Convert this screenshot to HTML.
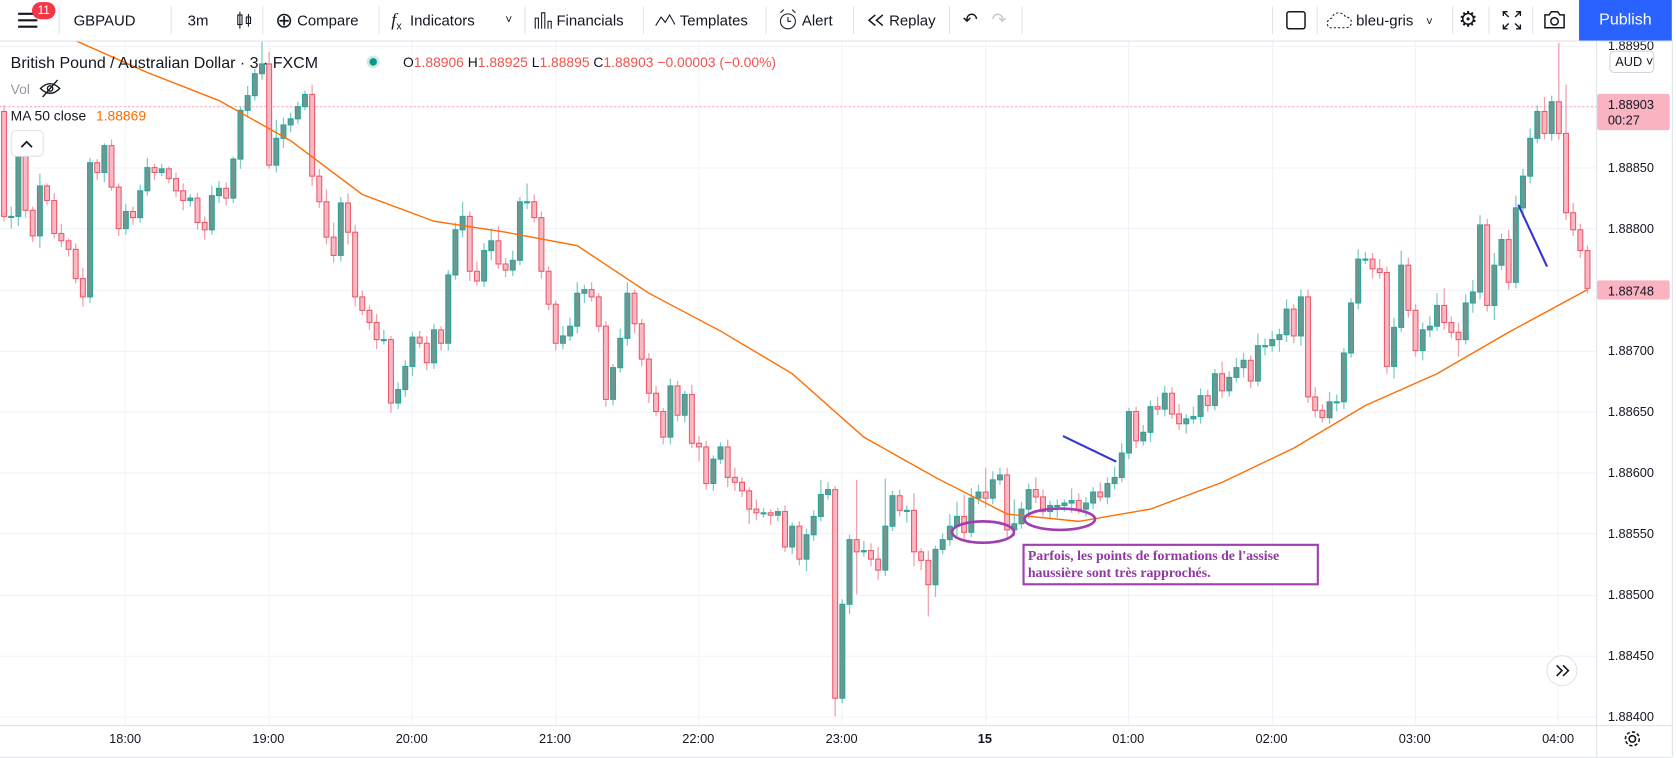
<!DOCTYPE html>
<html><head><meta charset="utf-8">
<style>
html,body{margin:0;padding:0;background:#fff;width:1676px;height:758px;overflow:hidden;font-family:"Liberation Sans",sans-serif;color:#131722}
#wrap{position:absolute;left:0;top:0;width:1572px;height:711px;transform:scale(1.0662);transform-origin:0 0}
#top{position:absolute;left:0;top:0;width:1568px;height:38px;border-bottom:1px solid #e0e3eb;background:#fff}
.ti{position:absolute;top:0;height:38px;line-height:38px;font-size:14px;white-space:nowrap}
.sep{position:absolute;top:6px;width:1px;height:26px;background:#e0e3eb}
#chart{position:absolute;left:0;top:0}
</style></head><body>
<div id="wrap">
<svg id="chart" width="1572" height="711" xmlns="http://www.w3.org/2000/svg" font-family="Liberation Sans, sans-serif">
<g id="grid"></g>
<line x1="0" y1="100" x2="1497" y2="100" stroke="#f7a9b9" stroke-dasharray="2,2"/>
<g id="candles"></g>
<path id="ma" fill="none" stroke="#ff6d00" stroke-width="1.3"/>
<g>
<ellipse cx="922" cy="499" rx="29" ry="10" fill="none" stroke="#a040b0" stroke-width="2.5"/>
<ellipse cx="994" cy="487" rx="33" ry="10" fill="none" stroke="#a040b0" stroke-width="2.5"/>
<line x1="997" y1="409" x2="1047" y2="433" stroke="#3535d0" stroke-width="2"/>
<line x1="1424" y1="192" x2="1451" y2="250" stroke="#3535d0" stroke-width="2"/>
<rect x="960" y="511" width="276" height="37" fill="#fff" stroke="#a040b0" stroke-width="2"/>
<text x="964" y="525" font-family="Liberation Serif, serif" font-weight="bold" font-size="13" fill="#8e3aa0">Parfois, les points de formations de l'assise</text>
<text x="964" y="541" font-family="Liberation Serif, serif" font-weight="bold" font-size="13" fill="#8e3aa0">haussière sont très rapprochés.</text>
</g>
<rect x="1497" y="38" width="71" height="642" fill="#fff"/>
<line x1="1497.5" y1="38" x2="1497.5" y2="710" stroke="#e0e3eb"/>
<line x1="1568.5" y1="38" x2="1568.5" y2="710" stroke="#e0e3eb"/>
<line x1="0" y1="680.5" x2="1568" y2="680.5" stroke="#e0e3eb"/>
<line x1="0" y1="710.5" x2="1568" y2="710.5" stroke="#e0e3eb"/>
<g id="yticks" font-size="12" fill="#131722"></g>
<g id="xticks" font-size="12" fill="#131722"></g>
<rect x="1510" y="48" width="41" height="20" rx="4" fill="#fff" stroke="#d1d4dc"/>
<text x="1515" y="62" font-size="12" fill="#131722">AUD ˅</text>
<rect x="1498" y="88" width="68" height="34" rx="2" fill="#f9b3c1"/>
<text x="1508" y="102" font-size="12" fill="#131722">1.88903</text>
<text x="1508" y="117" font-size="12" fill="#131722">00:27</text>
<rect x="1498" y="263" width="68" height="18" rx="2" fill="#f9b3c1"/>
<text x="1508" y="277" font-size="12" fill="#131722">1.88748</text>
<g>
<text x="10" y="64" font-size="15" fill="#131722">British Pound / Australian Dollar · 3 · FXCM</text>
<circle cx="350" cy="58" r="6" fill="#cfe9e5"/><circle cx="350" cy="58" r="3.5" fill="#089981"/>
<text x="378" y="63" font-size="13" fill="#ef5350"><tspan fill="#131722">O</tspan>1.88906 <tspan fill="#131722">H</tspan>1.88925 <tspan fill="#131722">L</tspan>1.88895 <tspan fill="#131722">C</tspan>1.88903 −0.00003 (−0.00%)</text>
<text x="10" y="88" font-size="13" fill="#9598a1">Vol</text>
<g stroke="#131722" fill="none" stroke-width="1.3"><path d="M38 83 Q47 74 56 83 Q47 92 38 83Z"/><circle cx="47" cy="83" r="2.5"/><line x1="40" y1="91" x2="54" y2="75"/></g>
<text x="10" y="113" font-size="13" fill="#131722">MA 50 close</text>
<text x="90" y="113" font-size="13" fill="#ff6d00">1.88869</text>
<rect x="10.5" y="122.5" width="30" height="24" rx="4" fill="#fff" stroke="#e0e3eb"/>
<path d="M20 138 L25 133 L30 138" stroke="#131722" fill="none" stroke-width="1.6"/>
</g>
<g><circle cx="1465" cy="629" r="14" fill="#fff" stroke="#e0e3eb"/><path d="M1460 624 L1465 629 L1460 634 M1466 624 L1471 629 L1466 634" stroke="#131722" fill="none" stroke-width="1.5"/></g>
<g stroke="#131722" fill="none" stroke-width="1.5"><circle cx="1531" cy="693" r="3"/><circle cx="1531" cy="693" r="6.5" stroke-dasharray="3,2"/></g>
</svg>

<div id="top">
 <div class="ti" style="left:16px"><svg width="20" height="38"><path d="M1 13h18M1 19h18M1 25h18" stroke="#131722" stroke-width="2"/></svg></div>
 <div class="ti" style="left:30px;top:2px;height:16px;line-height:16px;width:22px;border-radius:8px;background:#f23645;color:#fff;font-size:11px;text-align:center">11</div>
 <div class="sep" style="left:55px"></div>
 <div class="ti" style="left:69px">GBPAUD</div>
 <div class="sep" style="left:160px"></div>
 <div class="ti" style="left:176px">3m</div>
 <div class="ti" style="left:221px"><svg width="16" height="38"><path d="M4 11v16M12 13v12" stroke="#131722"/><rect x="2" y="14" width="4" height="9" fill="none" stroke="#131722"/><rect x="10" y="16" width="4" height="6" fill="none" stroke="#131722"/></svg></div>
 <div class="sep" style="left:246px"></div>
 <div class="ti" style="left:258px"><span style="font-size:20px;vertical-align:-2px">⊕</span> Compare</div>
 <div class="sep" style="left:355px"></div>
 <div class="ti" style="left:367px"><i style="font-family:'Liberation Serif',serif;font-size:17px">f</i><sub style="font-size:10px">x</sub> &nbsp;Indicators</div>
 <div class="ti" style="left:474px;font-size:11px">˅</div>
 <div class="sep" style="left:492px"></div>
 <div class="ti" style="left:500px"><svg width="18" height="38" style="vertical-align:top"><path d="M2 27V17h3v10M8 27V12h3v15M14 27V20h3v7" fill="none" stroke="#131722"/></svg> Financials</div>
 <div class="sep" style="left:603px"></div>
 <div class="ti" style="left:614px"><svg width="20" height="38" style="vertical-align:top"><path d="M1 24l5-8 4 5 4-7 5 9" fill="none" stroke="#131722"/></svg> Templates</div>
 <div class="sep" style="left:718px"></div>
 <div class="ti" style="left:729px"><svg width="20" height="38" style="vertical-align:top"><circle cx="10" cy="20" r="7" fill="none" stroke="#131722"/><path d="M10 16v4h3M3 12l3-3M17 12l-3-3" fill="none" stroke="#131722"/></svg> Alert</div>
 <div class="sep" style="left:800px"></div>
 <div class="ti" style="left:812px"><svg width="18" height="38" style="vertical-align:top"><path d="M9 14l-6 5 6 5M16 14l-6 5 6 5" fill="none" stroke="#131722" stroke-width="1.4"/></svg> Replay</div>
 <div class="sep" style="left:890px"></div>
 <div class="ti" style="left:903px;font-size:17px">↶</div>
 <div class="ti" style="left:930px;font-size:17px;color:#c5c8d0">↷</div>
 <div class="sep" style="left:958px"></div>
 <div class="sep" style="left:1193px"></div>
 <div class="ti" style="left:1206px"><svg width="20" height="38"><rect x="1" y="11" width="17" height="16" rx="2" fill="none" stroke="#131722" stroke-width="1.4"/></svg></div>
 <div class="sep" style="left:1235px"></div>
 <div class="ti" style="left:1242px"><svg width="26" height="38" style="vertical-align:top"><path d="M5 26h16a5 5 0 0 0-1-10 7 7 0 0 0-13 1 5 5 0 0 0-2 9z" fill="none" stroke="#131722" stroke-dasharray="2,2"/></svg> bleu-gris <span style="font-size:11px;margin-left:8px">˅</span></div>
 <div class="sep" style="left:1362px"></div>
 <div class="ti" style="left:1368px;font-size:20px">⚙</div>
 <div class="sep" style="left:1396px"></div>
 <div class="ti" style="left:1409px"><svg width="18" height="38"><path d="M1 15v-4h4M13 11h4v4M17 23v4h-4M5 27H1v-4M1 11l5 5M17 11l-5 5M17 27l-5-5M1 27l5-5" fill="none" stroke="#131722" stroke-width="1.3"/></svg></div>
 <div class="sep" style="left:1437px"></div>
 <div class="ti" style="left:1447px"><svg width="22" height="38"><path d="M2 14h4l2-3h6l2 3h4v12H2z" fill="none" stroke="#131722" stroke-width="1.4"/><circle cx="11" cy="20" r="3.5" fill="none" stroke="#131722" stroke-width="1.4"/></svg></div>
 <div class="ti" style="left:1481px;width:87px;background:#2962ff;color:#fff;text-align:center;font-size:15px">Publish</div>
</div>
</div>

<script>
const firstOpen = 1.88896;
const closes = [1.88810,1.88810,1.88868,1.88815,1.88794,1.88835,1.88823,1.88796,1.88790,1.88783,1.88759,1.88744,1.88854,1.88846,1.88868,1.88834,1.88800,1.88814,1.88809,1.88831,
1.88850,1.88846,1.88849,1.88841,1.88831,1.88823,1.88825,1.88805,1.88799,1.88827,1.88833,1.88825,1.88857,1.88897,1.88909,1.88927,1.88935,1.88852,1.88874,1.88885,
1.88890,1.88900,1.88910,1.88843,1.88822,1.88793,1.88778,1.88821,1.88797,1.88744,1.88733,1.88723,1.88709,1.88709,1.88657,1.88668,1.88687,1.88711,1.88706,1.88690,
1.88717,1.88706,1.88762,1.88799,1.88810,1.88765,1.88757,1.88782,1.88790,1.88771,1.88766,1.88774,1.88822,1.88822,1.88809,1.88765,1.88738,1.88706,1.88712,1.88720,
1.88747,1.88750,1.88744,1.88720,1.88660,1.88686,1.88710,1.88747,1.88722,1.88693,1.88665,1.88650,1.88629,1.88671,1.88647,1.88664,1.88624,1.88621,1.88591,1.88611,
1.88621,1.88596,1.88592,1.88585,1.88570,1.88567,1.88567,1.88565,1.88568,1.88539,1.88556,1.88529,1.88549,1.88564,1.88582,1.88586,1.88415,1.88492,1.88545,1.88535,
1.88536,1.88529,1.88520,1.88556,1.88581,1.88569,1.88569,1.88535,1.88528,1.88508,1.88537,1.88545,1.88556,1.88564,1.88551,1.88579,1.88584,1.88579,1.88594,1.88598,
1.88553,1.88558,1.88570,1.88586,1.88580,1.88568,1.88573,1.88573,1.88575,1.88577,1.88570,1.88575,1.88584,1.88580,1.88591,1.88596,1.88616,1.88650,1.88626,1.88633,
1.88654,1.88652,1.88665,1.88648,1.88640,1.88644,1.88646,1.88663,1.88655,1.88681,1.88667,1.88678,1.88686,1.88692,1.88675,1.88704,1.88704,1.88709,1.88713,1.88734,
1.88712,1.88744,1.88662,1.88651,1.88645,1.88658,1.88658,1.88698,1.88739,1.88775,1.88775,1.88767,1.88764,1.88687,1.88719,1.88770,1.88733,1.88700,1.88717,1.88720,
1.88737,1.88723,1.88715,1.88709,1.88739,1.88748,1.88803,1.88737,1.88770,1.88791,1.88756,1.88817,1.88843,1.88874,1.88896,1.88878,1.88904,1.88878,1.88813,1.88799,
1.88782,1.88751];
// wick sizes in 0.00001 units
const wickUp = [5,8,4,6,3,10,2,6,8,2,5,9,4,3,2,5,3,6,4,5, 8,3,4,2,5,6,3,4,5,8,6,5,2,3,8,4,20,10,15,6, 5,4,3,8,6,10,12,5,8,6,5,4,7,8,3,6,5,4,5,6,
5,3,4,6,12,4,8,6,10,12,5,8,4,15,6,5,4,3,8,7, 9,4,6,3,4,3,8,9,3,4,5,6,3,6,4,3,8,6,5,3, 4,6,8,4,3,8,4,3,3,5,3,4,5,5,12,6,3,4,4,49,
8,6,10,39,4,5,4,14,3,8,3,5,10,12,18,8,6,20,7,6, 6,20,6,5,10,6,4,5,3,10,6,5,4,8,5,9,8,3,4,6, 5,8,6,5,8,4,8,6,5,4,10,5,8,6,4,10,6,7,5,8,
4,6,6,8,5,8,6,4,4,8,6,5,8,5,8,12,6,5,6,8, 10,14,5,8,7,10,8,5,10,5,8,10,6,8,5,12,5,48,40,8,5,4];
const wickDn = [4,10,8,6,5,10,4,4,5,6,4,8,5,6,8,3,6,5,6,4, 4,6,3,4,5,8,5,6,8,4,6,6,4,8,6,4,5,3,6,8, 6,4,3,8,5,6,6,5,10,8,4,6,8,4,8,5,6,8,4,6,
5,6,6,4,6,8,4,5,8,4,6,5,4,6,4,6,5,6,5,4, 6,8,4,5,6,5,4,6,8,6,8,4,6,6,5,6,4,12,5,6, 4,8,7,5,12,6,4,8,5,4,6,5,10,5,4,4,15,4,8,35,
4,6,8,5,4,5,10,12,8,26,10,4,5,8,6,4,5,8,5,4, 6,5,4,8,5,4,6,10,5,8,4,6,5,4,6,5,4,5,6,4, 8,5,6,4,5,8,4,6,5,4,6,5,4,8,6,4,8,5,10,6,
6,8,5,6,4,5,8,6,4,5,4,8,5,6,10,4,6,5,8,6, 4,6,5,14,4,8,6,5,12,4,6,5,8,6,4,5,6,5,6,5,6,4];
const maIndex = [0,10,20,30,40,50,60,70,80,90,100,110,120,130,140,150,160,170,180,190,200,210,221];
const maValues = [1.88974,1.88954,1.88928,1.88905,1.88872,1.88828,1.88806,1.88797,1.88786,1.88747,1.88716,1.88681,1.88629,1.88596,1.88566,1.88560,1.88570,1.88592,1.88620,1.88655,1.88681,1.88715,1.88750];
const priceTicks = [1.8895,1.889,1.8885,1.888,1.8875,1.887,1.8865,1.886,1.8855,1.885,1.8845,1.884];
const timeLabels = ["18:00","19:00","20:00","21:00","22:00","23:00","15","01:00","02:00","03:00","04:00"];
const timeLabelIndex = [17,37,57,77,97,117,137,157,177,197,217];

const NS="http://www.w3.org/2000/svg";
const yOf = p => 672 - (p - 1.884) * 114400;
const xOf = i => 3.8 + i * 6.72;
function mk(tag, attrs, parent){const e=document.createElementNS(NS,tag);for(const k in attrs)e.setAttribute(k,attrs[k]);parent.appendChild(e);return e;}

const grid=document.getElementById('grid');
priceTicks.forEach(p=>{const y=Math.round(yOf(p))+0.5;
 const l=mk('line',{x1:0,x2:1497,y1:y,y2:y,stroke:'#f0f3fa'},grid);
 
 });
timeLabelIndex.forEach(i=>{const x=Math.round(xOf(i)-0.7)+0.5;
 const l=mk('line',{x1:x,x2:x,y1:38,y2:680,stroke:'#f0f3fa'},grid);
 
 });

const cg=document.getElementById('candles');
let prev=firstOpen;
closes.forEach((c,i)=>{
 const o=prev; prev=c;
 const up=c>=o; const x=xOf(i);
 const hi=Math.max(o,c)+(wickUp[i]||3)/100000, lo=Math.min(o,c)-(wickDn[i]||3)/100000;
 const g=mk('g',{},cg);
 
 
 mk('line',{x1:x,x2:x,y1:yOf(hi),y2:yOf(lo),stroke:up?'#7fcdc4':'#f2a0ad','stroke-width':1.2},g);
 const yt=yOf(Math.max(o,c)), yb=yOf(Math.min(o,c));
 mk('rect',{x:x-2.3,y:yt,width:4.6,height:Math.max(1,yb-yt),fill:up?'#6f9792':'#f8b8c4',stroke:up?'#26a69a':'#ea5a6a','stroke-width':1},g);
});

let d='';
maIndex.forEach((i,k)=>{d+=(k?'L':'M')+xOf(i).toFixed(1)+' '+Math.max(38,yOf(maValues[k])).toFixed(1)+' ';});
document.getElementById('ma').setAttribute('d',d);

const yt=document.getElementById('yticks');
priceTicks.forEach(p=>{const t=mk('text',{x:1508,y:yOf(p)+4},yt);t.textContent=p.toFixed(5);
 
 });
const xt=document.getElementById('xticks');
timeLabels.forEach((s,k)=>{const t=mk('text',{x:xOf(timeLabelIndex[k])-0.7,y:697,'text-anchor':'middle'},xt);t.textContent=s;
 if(s==='15')t.setAttribute('font-weight','bold');
 
 });
</script>
</body></html>
